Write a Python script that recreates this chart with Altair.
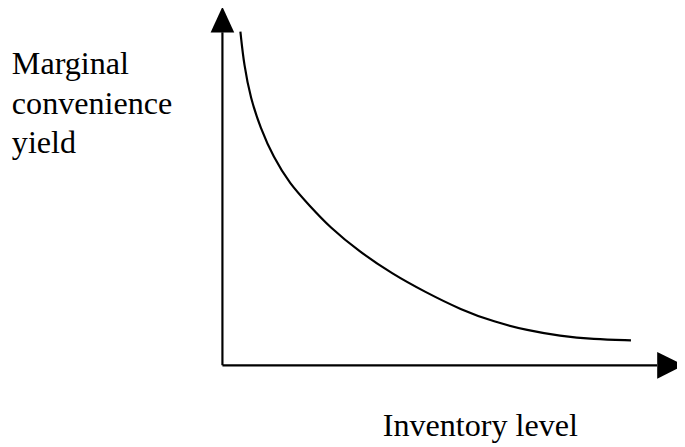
import altair as alt
import pandas as pd

# Curve: marginal convenience yield vs inventory level (arbitrary units)
inventory = [0.44, 0.53, 0.69, 0.93, 1.25, 1.65, 2.14, 2.62, 3.35, 4.16, 4.96, 5.85, 6.66, 7.47, 8.27, 9.08, 10.01]
yield_vals = [10.0, 8.99, 8.00, 7.12, 6.23, 5.44, 4.78, 4.15, 3.41, 2.74, 2.20, 1.66, 1.30, 1.05, 0.88, 0.78, 0.75]

# Axis arrows (data units)
axis_x = [0.0, 0.0]
axis_y = [0.0, 0.0]
axis_x2 = [0.0, 10.65]
axis_y2 = [9.98, 0.0]

head_up_x = [0.0]
head_up_y = [10.36]
head_right_x = [10.98]
head_right_y = [0.0]

# Labels
ylabel_text = ["Marginal", "convenience", "yield"]
xlabel_text = ["Inventory level"]

curve_df = pd.DataFrame({"inv": inventory, "cy": yield_vals})
axes_df = pd.DataFrame({"x": axis_x, "y": axis_y, "x2": axis_x2, "y2": axis_y2})
up_df = pd.DataFrame({"x": head_up_x, "y": head_up_y})
right_df = pd.DataFrame({"x": head_right_x, "y": head_right_y})
ylab_df = pd.DataFrame({"x": [-5.16], "y": [8.72], "t": [ylabel_text]})
xlab_df = pd.DataFrame({"x": [6.32], "y": [-2.13], "t": xlabel_text})

W, H = 677, 439
xs = alt.Scale(domain=[-5.254, 11.138], nice=False, zero=False)
ys = alt.Scale(domain=[-2.37, 10.63], nice=False, zero=False)

FONT = "'Liberation Serif', 'Times New Roman', 'DejaVu Serif', serif"

curve = alt.Chart(curve_df).mark_line(
    color="black", strokeWidth=2.2, interpolate="basis"
).encode(
    x=alt.X("inv:Q", scale=xs, axis=None),
    y=alt.Y("cy:Q", scale=ys, axis=None),
)

axes = alt.Chart(axes_df).mark_rule(color="black", strokeWidth=2.2).encode(
    x=alt.X("x:Q", scale=xs, axis=None),
    y=alt.Y("y:Q", scale=ys, axis=None),
    x2="x2:Q",
    y2="y2:Q",
)

up = alt.Chart(up_df).mark_point(
    shape="M0,-1L-0.92,1L0.92,1Z", filled=True, color="black", opacity=1, size=676
).encode(
    x=alt.X("x:Q", scale=xs, axis=None),
    y=alt.Y("y:Q", scale=ys, axis=None),
)

right = alt.Chart(right_df).mark_point(
    shape="M1,0L-1,-1L-1,1Z", filled=True, color="black", opacity=1, size=729
).encode(
    x=alt.X("x:Q", scale=xs, axis=None),
    y=alt.Y("y:Q", scale=ys, axis=None),
)

ylab = alt.Chart(ylab_df).mark_text(
    font=FONT, fontSize=32.5, align="left", baseline="alphabetic", lineHeight=40, color="black"
).encode(
    x=alt.X("x:Q", scale=xs, axis=None),
    y=alt.Y("y:Q", scale=ys, axis=None),
    text="t",
)

xlab = alt.Chart(xlab_df).mark_text(
    font=FONT, fontSize=32.5, align="center", baseline="alphabetic", color="black"
).encode(
    x=alt.X("x:Q", scale=xs, axis=None),
    y=alt.Y("y:Q", scale=ys, axis=None),
    text="t:N",
)

chart = alt.layer(axes, curve, up, right, ylab, xlab).properties(
    width=W, height=H,
    autosize=alt.AutoSizeParams(type="none"),
    padding=0,
    background="white",
).configure_view(stroke=None, strokeWidth=0)

chart.save("out.html", embed_options={"renderer": "svg", "actions": False})
